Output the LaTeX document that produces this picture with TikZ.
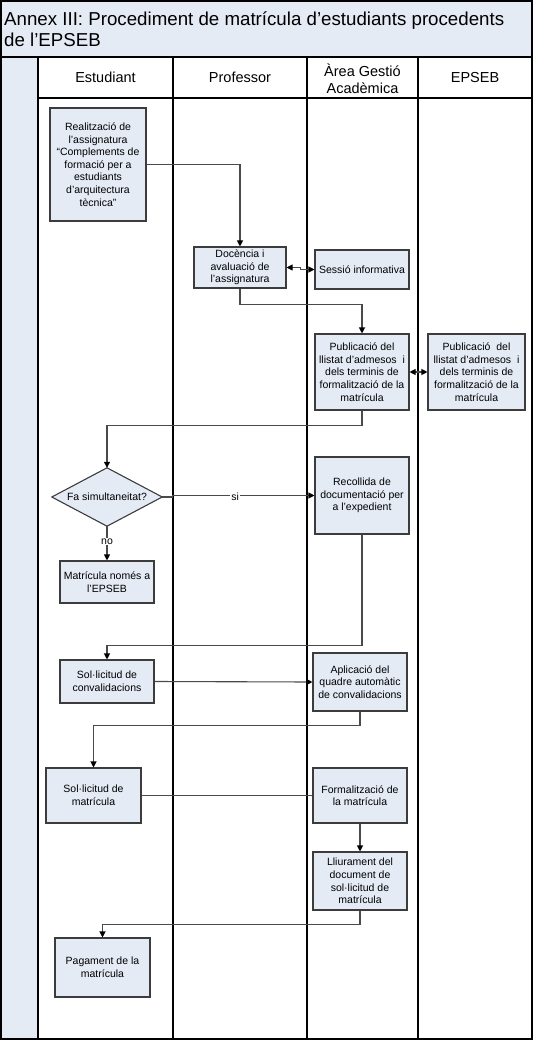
\documentclass[tikz,border=0pt]{standalone}
\usepackage{fontspec}
\setmainfont{Liberation Sans}
\usetikzlibrary{arrows.meta,backgrounds,calc}
\definecolor{bfill}{HTML}{E5EBF5}
\definecolor{bline}{HTML}{3C3C3C}
\definecolor{cline}{HTML}{4A4A4A}
\begin{document}
\begin{tikzpicture}[x=1pt,y=-1pt,
  box/.style={draw=bline, line width=1.1pt, fill=bfill, align=center, font=\fontsize{10.5}{12.6}\selectfont, inner sep=0pt},
  conn/.style={draw=cline, line width=1.1pt},
  arr/.style={conn, -{Triangle[length=6pt,width=6pt,color=black]}},
  darr/.style={conn, {Triangle[length=6pt,width=6pt,color=black]}-{Triangle[length=6pt,width=6pt,color=black]}},
  lane/.style={draw=black, line width=1.3pt},
  hdr/.style={align=center, font=\fontsize{14.5}{17}\selectfont, inner sep=0pt},
  lbl/.style={fill=white, inner sep=1pt, font=\fontsize{10.5}{12.6}\selectfont}]

\useasboundingbox (0,0) rectangle (533,1040);

% structure
\fill[bfill] (0,0) rectangle (533,57);
\fill[bfill] (0,57) rectangle (38,1040);
\draw[lane] (0,57) -- (533,57);
\draw[lane] (38,98) -- (533,98);
\foreach \xx in {38,173,307,418} \draw[lane] (\xx,57) -- (\xx,1040);
\draw[black, line width=1.6pt] (0.8,0.8) rectangle (532.2,1039.2);

% title
\node[anchor=north west, align=left, font=\fontsize{18.7}{21.5}\selectfont, inner sep=0pt] (title) at (4,11.5)
  {Annex III: Procediment de matrícula d’estudiants procedents\\de l’EPSEB};

% headers
\node[hdr] (hEst) at (105.5,77.5) {Estudiant};
\node[hdr] (hPro) at (240,77.5) {Professor};
\node[hdr] (hAGA) at (362.5,78.5) {Àrea Gestió\\Acadèmica};
\node[hdr] (hEPS) at (475,77.5) {EPSEB};

% boxes
\node[box, minimum width=96, minimum height=113] (r) at (98,164.5)
  {Realització de\\l’assignatura\\“Complements de\\formació per a\\estudiants\\d’arquitectura\\tècnica”};
\node[box, minimum width=92, minimum height=41] (d) at (240,267.5)
  {Docència i\\avaluació de\\l’assignatura};
\node[box, minimum width=94, minimum height=39] (s) at (362,269.5)
  {Sessió informativa};
\node[box, minimum width=94, minimum height=76] (pa) at (362,372)
  {Publicació del\\llistat d’admesos\ \ i\\dels terminis de\\formalització de la\\matrícula};
\node[box, minimum width=97, minimum height=76] (pe) at (476.5,372)
  {Publicació\ \ del\\llistat d’admesos\ \ i\\dels terminis de\\formalització de la\\matrícula};

\node[minimum width=110, minimum height=58, inner sep=0pt, font=\fontsize{10.5}{12.6}\selectfont] (dia) at (107,497)
  {Fa simultaneitat?};
\begin{scope}[on background layer]
  \filldraw[fill=bfill, draw=bline, line width=1.1pt] (dia.north) -- (dia.east) -- (dia.south) -- (dia.west) -- cycle;
\end{scope}

\node[box, minimum width=94, minimum height=77] (rec) at (362,495.5)
  {Recollida de\\documentació per\\a l’expedient};
\node[box, minimum width=94, minimum height=42] (mn) at (107,582)
  {Matrícula només a\\l’EPSEB};
\node[box, minimum width=94, minimum height=43] (sc) at (107,681.5)
  {Sol·licitud de\\convalidacions};
\node[box, minimum width=94, minimum height=58] (ap) at (360,682)
  {Aplicació del\\quadre automàtic\\de convalidacions};
\node[box, minimum width=95, minimum height=55] (sm) at (93.5,795.5)
  {Sol·licitud de\\matrícula};
\node[box, minimum width=94, minimum height=55] (fm) at (360,795.5)
  {Formalització de\\la matrícula};
\node[box, minimum width=94, minimum height=58] (ll) at (360,881)
  {Lliurament del\\document de\\sol·licitud de\\matrícula};
\node[box, minimum width=95, minimum height=59] (pg) at (102.5,967.5)
  {Pagament de la\\matrícula};

% connectors
\draw[arr] (r.east) -| (d.north);
\draw[darr] (d.east) -- ++(14,0) |- (s.west);
\draw[arr] (d.south) -- ++(0,16) -| (pa.north);
\draw[darr] (pa.east) -- (pe.west);
\draw[arr] (pa.south) -- ++(0,15) -| (dia.north);
\draw[arr] (dia.east) -- ++(10,0) |- (rec.west);
\node[lbl] (si) at ($(dia.east)!0.48!(rec.west)$) {si};
\draw[arr] (dia.south) -- (mn.north) node[lbl, pos=0.45] (no) {no};
\draw[arr] (rec.south) -- ++(0,111) -| (sc.north);
\draw[arr] (sc.east) -- (ap.west);
\draw[arr] (ap.south) -- ++(0,14) -| (sm.north);
\draw[conn] (sm.east) -- (fm.west);
\draw[arr] (fm.south) -- (ll.north);
\draw[arr] (ll.south) -- ++(0,14) -| (pg.north);
\end{tikzpicture}
\end{document}
